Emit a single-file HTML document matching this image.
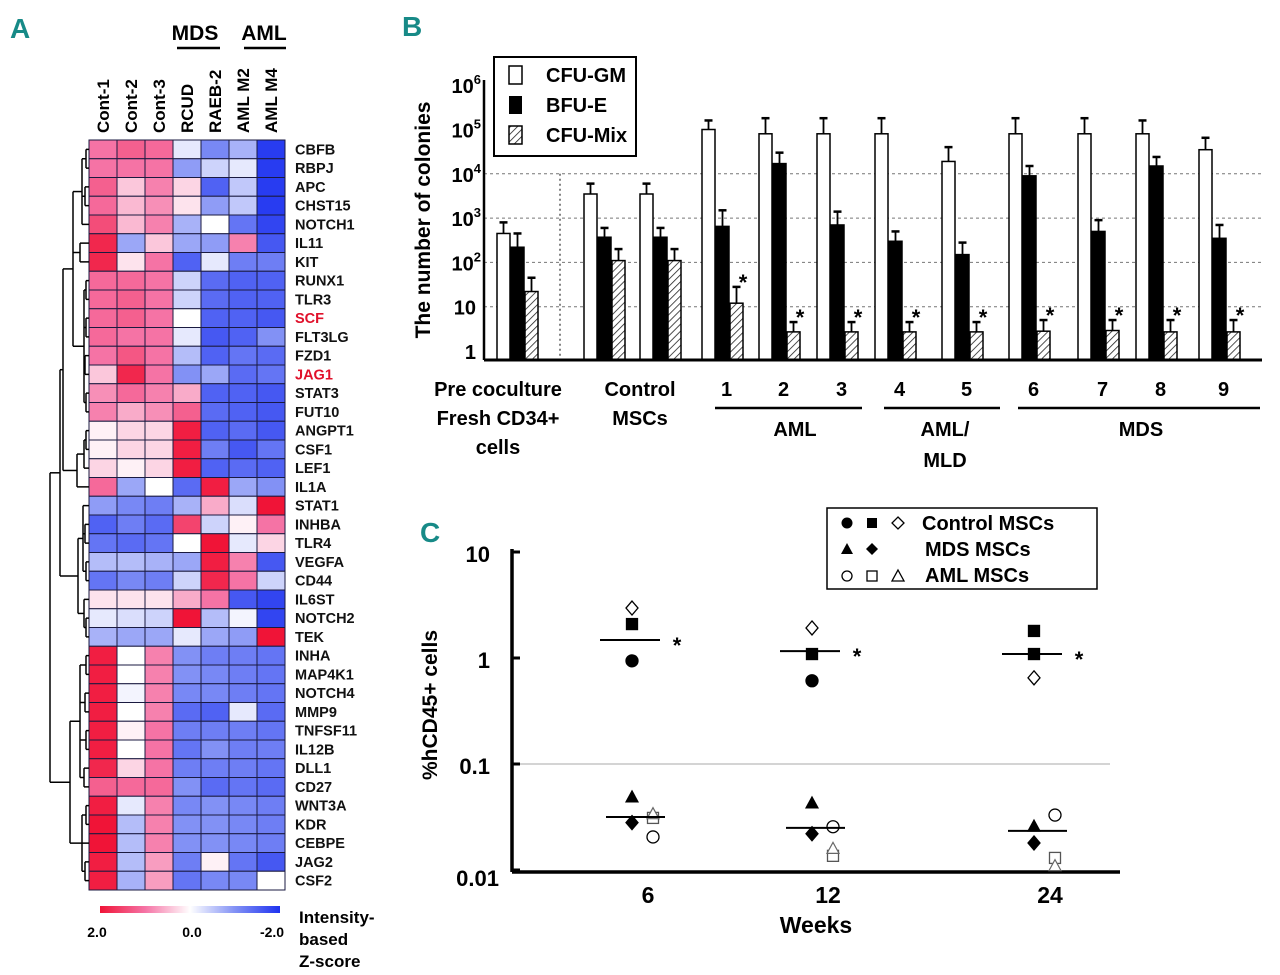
<!DOCTYPE html>
<html><head><meta charset="utf-8"><style>
body{margin:0;background:#fff;}
svg{display:block;font-family:"Liberation Sans Narrow","Liberation Sans",sans-serif;font-weight:bold;}
</style></head><body>
<svg id="fig" width="1280" height="975" viewBox="0 0 1280 975" xmlns="http://www.w3.org/2000/svg">
<defs>
<pattern id="hatch" patternUnits="userSpaceOnUse" width="5" height="5" patternTransform="rotate(45)">
<rect width="5" height="5" fill="#fff"/><line x1="0" y1="0" x2="0" y2="5" stroke="#222" stroke-width="1.6"/>
</pattern>
<linearGradient id="zgrad" x1="0" x2="1" y1="0" y2="0">
<stop offset="0" stop-color="rgb(240,20,55)"/><stop offset="0.25" stop-color="rgb(245,115,165)"/><stop offset="0.5" stop-color="#fff"/><stop offset="0.75" stop-color="rgb(130,145,245)"/><stop offset="1" stop-color="rgb(30,50,240)"/>
</linearGradient>
</defs>
<text x="10" y="38" font-size="28" fill="#178a87">A</text>
<text x="402" y="36" font-size="28" fill="#178a87">B</text>
<text x="420" y="542" font-size="28" fill="#178a87">C</text>

<g>
<text x="195" y="40" font-size="21" text-anchor="middle">MDS</text>
<line x1="177" y1="48" x2="220" y2="48" stroke="#000" stroke-width="2.5"/>
<text x="264" y="40" font-size="21" text-anchor="middle">AML</text>
<line x1="244" y1="48" x2="286" y2="48" stroke="#000" stroke-width="2.5"/>
</g>
<g id="heatmap"></g>
<g id="dendro" stroke="#000" stroke-width="1.5" fill="none"></g>
<g>
<rect x="100" y="906" width="180" height="7" fill="url(#zgrad)"/>
<text x="97" y="937" font-size="14" text-anchor="middle">2.0</text>
<text x="192" y="937" font-size="14" text-anchor="middle">0.0</text>
<text x="272" y="937" font-size="14" text-anchor="middle">-2.0</text>
<text x="299" y="923" font-size="17">Intensity-</text>
<text x="299" y="945" font-size="17">based</text>
<text x="299" y="967" font-size="17">Z-score</text>
</g>

<g id="panelB"></g>
<g>
<rect x="494" y="57" width="142" height="99" fill="#fff" stroke="#000" stroke-width="2"/>
<rect x="509" y="66" width="13" height="18" fill="#fff" stroke="#000" stroke-width="1.5"/>
<text x="546" y="82" font-size="20">CFU-GM</text>
<rect x="509" y="96" width="13" height="18" fill="#000"/>
<text x="546" y="112" font-size="20">BFU-E</text>
<rect x="509" y="126" width="13" height="18" fill="url(#hatch)" stroke="#000" stroke-width="1.5"/>
<text x="546" y="142" font-size="20">CFU-Mix</text>
</g>
<g font-size="20" text-anchor="middle">
<text x="498" y="396">Pre coculture</text>
<text x="498" y="425">Fresh CD34+</text>
<text x="498" y="454">cells</text>
<text x="640" y="396">Control</text>
<text x="640" y="425">MSCs</text>
<line x1="715" y1="408" x2="862" y2="408" stroke="#000" stroke-width="2.5"/>
<line x1="884" y1="408" x2="1000" y2="408" stroke="#000" stroke-width="2.5"/>
<line x1="1018" y1="408" x2="1260" y2="408" stroke="#000" stroke-width="2.5"/>
<text x="795" y="436">AML</text>
<text x="945" y="436">AML/</text>
<text x="945" y="467">MLD</text>
<text x="1141" y="436">MDS</text>
</g>
<text transform="translate(430,220) rotate(-90)" font-size="21" text-anchor="middle" font-family="Liberation Sans,sans-serif">The number of colonies</text>

<g id="panelC"></g>
<g>
<rect x="827" y="508" width="270" height="81" fill="#fff" stroke="#000" stroke-width="1.5"/>
<circle cx="847" cy="523" r="5.5" fill="#000"/>
<rect x="867" y="518" width="10" height="10" fill="#000"/>
<path d="M898 517 L904 523 L898 529 L892 523 Z" fill="#fff" stroke="#000" stroke-width="1.3"/>
<text x="922" y="530" font-size="20">Control MSCs</text>
<path d="M847 543 L853 554 L841 554 Z" fill="#000"/>
<path d="M872 543 L878 549 L872 555 L866 549 Z" fill="#000"/>
<text x="925" y="556" font-size="20">MDS MSCs</text>
<circle cx="847" cy="576" r="5" fill="#fff" stroke="#000" stroke-width="1.3"/>
<rect x="867" y="571" width="10" height="10" fill="#fff" stroke="#000" stroke-width="1.3"/>
<path d="M898 570 L904 581 L892 581 Z" fill="#fff" stroke="#000" stroke-width="1.3"/>
<text x="925" y="582" font-size="20">AML MSCs</text>
</g>
<text transform="translate(437,705) rotate(-90)" font-size="21" text-anchor="middle" font-family="Liberation Sans,sans-serif">%hCD45+ cells</text>
<text x="816" y="933" font-size="23" text-anchor="middle">Weeks</text>
</svg>
<script>
const genes=["CBFB","RBPJ","APC","CHST15","NOTCH1","IL11","KIT","RUNX1","TLR3","SCF","FLT3LG","FZD1","JAG1","STAT3","FUT10","ANGPT1","CSF1","LEF1","IL1A","STAT1","INHBA","TLR4","VEGFA","CD44","IL6ST","NOTCH2","TEK","INHA","MAP4K1","NOTCH4","MMP9","TNFSF11","IL12B","DLL1","CD27","WNT3A","KDR","CEBPE","JAG2","CSF2"];
const samples=["Cont-1","Cont-2","Cont-3","RCUD","RAEB-2","AML M2","AML M4"];
const redGenes=["SCF","JAG1"];
const zscores=[
[1.0,1.2,1.1,-0.2,-1.1,-0.7,-1.9],[1.0,1.0,1.0,-0.9,-0.4,-0.2,-1.9],[1.2,0.4,0.9,0.3,-1.5,-0.5,-1.9],[1.1,0.5,0.8,0.2,-0.9,-0.5,-1.9],
[1.4,0.5,0.9,-0.7,0,-1.3,-1.8],[1.8,-0.8,0.4,-0.8,-0.9,0.9,-1.6],[1.8,0.2,1.0,-1.5,-0.2,-1.2,-1.2],[1.1,1.1,1.0,-0.4,-1.4,-1.5,-1.5],
[1.1,1.2,1.0,-0.4,-1.4,-1.5,-1.5],[1.1,1.2,1.0,0,-1.5,-1.5,-1.6],[1.1,1.0,1.0,-0.2,-1.6,-1.5,-1.0],[1.0,1.3,1.0,-0.6,-1.5,-1.3,-1.4],
[0.4,1.8,1.0,-1.0,-0.8,-1.4,-1.3],[0.8,1.1,0.9,0.6,-1.5,-1.5,-1.6],[0.9,0.6,0.8,1.2,-1.4,-1.5,-1.6],[0.1,0.3,0.3,1.9,-1.5,-1.4,-1.6],
[0.1,0.3,0.3,1.9,-1.2,-1.6,-1.3],[0.3,0.1,0.3,1.9,-1.5,-1.4,-1.5],[1.1,-0.8,0,-1.4,1.9,-0.8,-1.0],[-0.9,-1.1,-1.2,-0.7,0.6,-0.3,2.0],
[-1.5,-1.2,-1.4,1.5,-0.4,0.1,1.0],[-1.3,-1.4,-1.3,0,2.0,-0.2,0.3],[-0.6,-0.6,-0.7,-0.8,1.9,0.9,-1.6],[-1.3,-1.1,-1.2,-0.4,1.8,1.0,-0.4],
[0.2,0.2,0.2,0.6,1.0,-1.6,-1.8],[-0.2,-0.3,-0.4,2.0,-0.6,-0.1,-1.8],[-0.7,-0.8,-0.8,-0.2,-0.8,-0.9,2.0],[1.9,0,0.9,-1.0,-1.2,-1.2,-1.3],
[1.9,0,0.9,-1.0,-1.1,-1.2,-1.3],[1.9,-0.1,0.9,-1.1,-1.1,-1.2,-1.3],[1.9,0,0.9,-1.4,-1.5,-0.2,-1.4],[1.9,0.1,1.0,-1.2,-1.2,-1.2,-1.3],
[1.9,0,1.0,-1.3,-1.0,-1.2,-1.2],[1.8,0.3,1.0,-1.2,-1.2,-1.2,-1.3],[1.2,1.1,1.1,-1.0,-1.4,-1.3,-1.4],[1.9,-0.2,0.9,-1.1,-1.0,-1.1,-1.2],
[2.0,-0.6,0.9,-1.0,-1.0,-1.1,-1.2],[2.0,-0.6,0.9,-1.0,-1.0,-1.1,-1.2],[1.9,-0.6,0.7,-1.2,0.1,-1.3,-1.6],[1.9,-0.7,0.7,-1.3,-1.1,-1.1,0]];

const bGroups=["Pre coculture","Control MSCs","Control MSCs","1","2","3","4","5","6","7","8","9"];
const cfuGM=[450,3500,3500,100000,80000,80000,80000,19000,80000,80000,80000,35000];
const cfuGMErr=[800,6000,6000,160000,180000,180000,180000,40000,180000,180000,160000,65000];
const bfuE=[220,370,370,650,17000,700,300,150,9000,500,15000,350];
const bfuEErr=[450,600,600,1500,30000,1400,500,280,15000,900,24000,700];
const cfuMix=[22,110,110,12,2.7,2.7,2.7,2.7,2.8,2.9,2.7,2.7];
const cfuMixErr=[45,200,200,28,4.5,4.5,4.5,4.5,5,5,5,5];
const mixSignificant=[0,0,0,1,1,1,1,1,1,1,1,1];
const bTickLabels=["1","10","10","10","10","10","10"];
const bTickExp=[0,1,2,3,4,5,6];

const weeks=["6","12","24"];
const ctlCircle=[0.94,0.61,null];
const ctlSquare=[2.09,1.09,1.80];
const ctlSquare2=[null,null,1.09];
const ctlDiamond=[2.96,1.92,0.65];
const ctlMedian=[1.48,1.16,1.09];
const mdsTriangle=[0.049,0.043,0.026];
const mdsDiamond=[0.028,0.022,0.018];
const amlCircle=[0.0205,0.0256,0.033];
const amlSquare=[0.031,0.0136,0.013];
const amlTriangle=[0.034,0.016,0.011];
const lowMedian=[0.0316,0.025,0.0234];
const cTicks=[10,1,0.1,0.01];

const NS="http://www.w3.org/2000/svg";
function mk(tag,attrs,parent){const e=document.createElementNS(NS,tag);for(const k in attrs)e.setAttribute(k,attrs[k]);parent.appendChild(e);return e;}

const hm=document.getElementById('heatmap');
const hx0=89,hy0=140,cw=28,rh=18.75;
function zColor(z){const st=[[2,240,20,55],[1,245,115,165],[0,255,255,255],[-1,130,145,245],[-2,30,50,240]];
 z=Math.max(-2,Math.min(2,z));for(let i=0;i<4;i++){const a=st[i],b=st[i+1];if(z<=a[0]&&z>=b[0]){const t=(a[0]-z)/(a[0]-b[0]);return `rgb(${Math.round(a[1]+(b[1]-a[1])*t)},${Math.round(a[2]+(b[2]-a[2])*t)},${Math.round(a[3]+(b[3]-a[3])*t)})`;}}return '#fff';}
zscores.forEach((row,r)=>{row.forEach((z,c)=>{
 const cell=mk('rect',{x:hx0+c*cw,y:hy0+r*rh,width:cw,height:rh,fill:zColor(z),stroke:'#1a1a40','stroke-width':1},hm);
 
 
});
 const t=mk('text',{x:295,y:hy0+r*rh+rh/2+5,'font-size':14.5,fill:redGenes.includes(genes[r])?'#e0102a':'#111'},hm);
 t.textContent=genes[r];
 
 
});
samples.forEach((s,c)=>{
 const x=hx0+c*cw+cw/2+6;
 const t=mk('text',{transform:`translate(${x},133) rotate(-90)`,'font-size':17,'font-family':'Liberation Sans,sans-serif'},hm);
 t.textContent=s;
 
 
});
const dg=document.getElementById('dendro');
function rowY(i){return hy0+i*rh+rh/2;}
function drawNode(n){
 if(typeof n==='number')return {y:rowY(n),x:hx0};
 const ch=n.c.map(drawNode);
 ch.forEach(p=>mk('line',{x1:p.x,y1:p.y,x2:n.x,y2:p.y},dg));
 const ys=ch.map(p=>p.y);const mn=Math.min(...ys),mx=Math.max(...ys);
 mk('line',{x1:n.x,y1:mn,x2:n.x,y2:mx},dg);
 return {y:(mn+mx)/2,x:n.x};
}
const tree={x:50,c:[
 {x:60,c:[
  {x:63,c:[
   {x:73,c:[{x:82,c:[{x:86,c:[0,1]},{x:85,c:[2,3]},4]},{x:80,c:[5,6]},{x:84,c:[{x:86,c:[7,8]},{x:86,c:[9,10]},{x:85,c:[11,12]},{x:86,c:[13,14]}]}]},
   {x:77,c:[{x:84,c:[{x:86,c:[15,16]},17]},18]}]},
  {x:78,c:[{x:83,c:[19,{x:85,c:[20,21]},{x:86,c:[22,23]}]},{x:84,c:[24,{x:86,c:[25,26]}]}]}]},
 {x:70,c:[{x:80,c:[{x:86,c:[27,28]},{x:85,c:[29,30]},{x:86,c:[31,32]},{x:84,c:[33,34]}]},{x:82,c:[{x:86,c:[35,36]},37,{x:85,c:[38,39]}]}]}]};
drawNode(tree);

const pb=document.getElementById('panelB');
const bAxX=484,bBase=360,bOne=351,bDec=44.3;
function yB(v){return bOne-bDec*Math.log10(v);}
const groupX=[497,584,640,702,759,817,875,942,1009,1078,1136,1199];
const bw=13,bs=14;
[1,2,3,4].forEach(e=>{const g=mk('line',{x1:bAxX,x2:1262,y1:yB(Math.pow(10,e)),y2:yB(Math.pow(10,e)),stroke:'#777','stroke-width':1,'stroke-dasharray':'3,3'},pb);
 
 });
mk('line',{x1:560,x2:560,y1:yB(1e4),y2:bBase,stroke:'#333','stroke-width':1.2,'stroke-dasharray':'2,3'},pb);
function bar(x,v,err,fill,name){
 const top=yB(v);const cx=x+bw/2;
 mk('line',{x1:cx,x2:cx,y1:yB(err),y2:top,stroke:'#000','stroke-width':1.8},pb);
 mk('line',{x1:cx-4,x2:cx+4,y1:yB(err),y2:yB(err),stroke:'#000','stroke-width':2.5},pb);
 const r=mk('rect',{x:x,y:top,width:bw,height:bBase-top,fill:fill,stroke:'#000','stroke-width':1.5},pb);
 
 
}
bGroups.forEach((g,i)=>{
 const x=groupX[i];
 bar(x,cfuGM[i],cfuGMErr[i],'#fff','bar-cfu-gm');
 bar(x+bs,bfuE[i],bfuEErr[i],'#000','bar-bfu-e');
 bar(x+2*bs,cfuMix[i],cfuMixErr[i],'url(#hatch)','bar-cfu-mix');
 if(mixSignificant[i]){const s=mk('text',{x:x+2*bs+bw,y:yB(cfuMixErr[i])+3,'font-size':22,'text-anchor':'middle'},pb);s.textContent='*';
  
  }
 if(i>=3){const t=mk('text',{x:x+bs+bw/2+4,y:396,'font-size':20,'text-anchor':'middle'},pb);t.textContent=g;
  
  }
});
mk('line',{x1:bAxX,x2:bAxX,y1:80,y2:bBase,stroke:'#000','stroke-width':2.5},pb);
mk('line',{x1:bAxX,x2:1262,y1:bBase,y2:bBase,stroke:'#000','stroke-width':3},pb);
bTickExp.forEach((e,i)=>{
 const t=mk('text',{x:476,y:yB(Math.pow(10,e))+8,'font-size':20,'text-anchor':'end'},pb);
 t.textContent=bTickLabels[i];
 if(e>1){const s=mk('tspan',{'font-size':13,dy:-9},t);s.textContent=String(e);t.setAttribute('x',481);}
 
 
});

const pc=document.getElementById('panelC');
const cAxX=512,cBase=872,cOne=658,cDec=106;
function yC(v){return cOne-cDec*Math.log10(v);}
const weekX=[648,828,1050];
function xC(i){return weekX[i];}
mk('line',{x1:cAxX,x2:1110,y1:yC(0.1),y2:yC(0.1),stroke:'#bbb','stroke-width':1.2},pc);
mk('line',{x1:cAxX,x2:cAxX,y1:yC(10)-3,y2:cBase,stroke:'#000','stroke-width':3.5},pc);
mk('line',{x1:cAxX,x2:1120,y1:cBase,y2:cBase,stroke:'#000','stroke-width':3.5},pc);
cTicks.forEach(v=>{
 mk('line',{x1:cAxX,x2:cAxX+8,y1:yC(v),y2:yC(v),stroke:'#000','stroke-width':3},pc);
 const t=mk('text',{x:v===0.01?499:490,y:yC(v)+(v===0.01?16:10),'font-size':22,'text-anchor':'end'},pc);
 t.textContent=String(v);
 
 
});
weeks.forEach((w,i)=>{const t=mk('text',{x:xC(i),y:903,'font-size':23,'text-anchor':'middle'},pc);t.textContent=w;
 
 });
function sym(kind,x,v,filled){
 if(v===null||v===undefined)return;
 const y=yC(v);const f=filled?'#000':'#fff';let e;
 if(kind==='circle')e=mk('circle',{cx:x,cy:y,r:6,fill:f,stroke:'#000','stroke-width':1.3},pc);
 else if(kind==='square')e=mk('rect',{x:x-5.5,y:y-5.5,width:11,height:11,fill:f,stroke:filled?'#000':'#555','stroke-width':1.3},pc);
 else if(kind==='diamond')e=mk('path',{d:`M${x} ${y-7}L${x+6} ${y}L${x} ${y+7}L${x-6} ${y}Z`,fill:f,stroke:'#000','stroke-width':1.3},pc);
 else e=mk('path',{d:`M${x} ${y-6}L${x+6} ${y+5}L${x-6} ${y+5}Z`,fill:f,stroke:filled?'#000':'#666','stroke-width':1.2},pc);
 
 
}
weeks.forEach((w,i)=>{
 const x=xC(i);const xl=x-16, xr=x+5;
 sym('circle',xl,ctlCircle[i],true);
 sym('square',xl,ctlSquare[i],true);
 sym('square',xl,ctlSquare2[i],true);
 sym('diamond',xl,ctlDiamond[i],false);
 mk('line',{x1:x-48,x2:x+12,y1:yC(ctlMedian[i]),y2:yC(ctlMedian[i]),stroke:'#000','stroke-width':2},pc);
 const s=mk('text',{x:x+29,y:yC(ctlMedian[i])+13,'font-size':22,'text-anchor':'middle'},pc);s.textContent='*';
 
 
 sym('triangle',xl,mdsTriangle[i],true);
 sym('diamond',xl,mdsDiamond[i],true);
 sym('circle',xr,amlCircle[i],false);
 sym('square',xr,amlSquare[i],false);
 sym('triangle',xr,amlTriangle[i],false);
 mk('line',{x1:x-42,x2:x+17,y1:yC(lowMedian[i]),y2:yC(lowMedian[i]),stroke:'#000','stroke-width':2},pc);
});
</script>
</body></html>
